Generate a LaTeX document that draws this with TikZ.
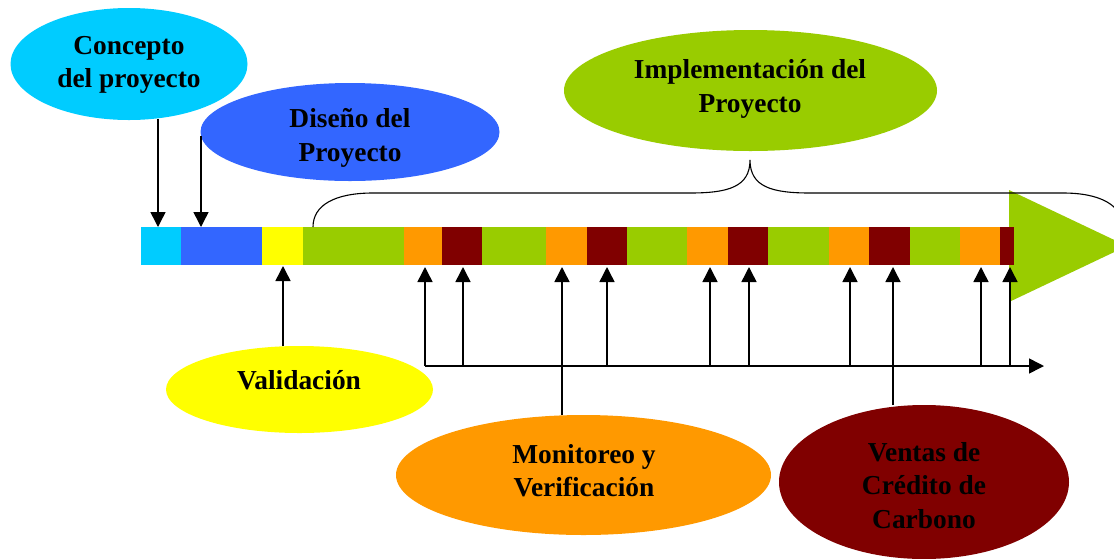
\documentclass[tikz,border=0pt]{standalone}
\usepackage{fontspec}
\setmainfont{Liberation Serif}
\usetikzlibrary{shapes.geometric,arrows.meta}
\definecolor{ccyan}{HTML}{00CCFF}
\definecolor{cblue}{HTML}{3366FF}
\definecolor{cyell}{HTML}{FFFF00}
\definecolor{cgreen}{HTML}{99CC00}
\definecolor{corange}{HTML}{FF9900}
\definecolor{cmaroon}{HTML}{800000}
\begin{document}
\begin{tikzpicture}[x=1pt,y=-1pt,
  ell/.style={ellipse,draw=none,inner sep=0pt,outer sep=0pt},
  lbl/.style={align=center,inner sep=0pt,font=\fontsize{27.4}{33.5}\selectfont\bfseries},
  seg/.style={rectangle,draw=none,inner sep=0pt,outer sep=0pt,minimum height=38pt,anchor=west},
  arr/.style={line width=1.5pt,-{Triangle[length=15pt,width=15pt]}},
  brace/.style={line width=1.1pt}]
\clip (0,0) rectangle (1114,558);
\fill[white] (0,0) rectangle (1114,558);

% ellipses
\node[ell,fill=ccyan,minimum width=237pt,minimum height=112pt] (concepto) at (129,64) {};
\node[lbl] (concepto-t) at (129,65) {Concepto\\del proyecto};
\node[ell,fill=cblue,minimum width=299pt,minimum height=98pt] (diseno) at (350,132) {};
\node[lbl] (diseno-t) at (350,138) {Diseño del\\Proyecto};
\node[ell,fill=cgreen,minimum width=373pt,minimum height=121pt] (impl) at (750.5,90.5) {};
\node[lbl] (impl-t) at (750,89) {Implementación del\\Proyecto};
\node[ell,fill=cyell,minimum width=267pt,minimum height=87pt] (valid) at (299.5,389.5) {};
\node[lbl] (valid-t) at (299,380) {Validación};
\node[ell,fill=corange,minimum width=375pt,minimum height=120pt] (monit) at (583.5,475) {};
\node[lbl] (monit-t) at (584,470.5) {Monitoreo y\\Verificación};
\node[ell,fill=cmaroon,minimum width=290pt,minimum height=154pt] (ventas) at (924,482) {};
\node[lbl] (ventas-t) at (924,485.5) {Ventas de\\Crédito de\\Carbono};

% big arrow head
\fill[cgreen] (1009,190) -- (1127,246) -- (1009,302) -- cycle;

% bar segments
\foreach \i/\a/\b/\c in {1/141/181/ccyan,2/181/262/cblue,3/262/303/cyell,4/303/404/cgreen,
  5/404/442/corange,6/442/482/cmaroon,7/482/546/cgreen,8/546/587/corange,9/587/627/cmaroon,
  10/627/687/cgreen,11/687/728/corange,12/728/768/cmaroon,13/768/829/cgreen,14/829/869/corange,
  15/869/910/cmaroon,16/910/960/cgreen,17/960/1000/corange,18/1000/1014/cmaroon}{
  \pgfmathsetmacro{\w}{\b-\a}
  \node[seg,fill=\c,minimum width=\w pt] (seg\i) at (\a,246) {};
}

% brace
\draw[brace] (seg4.north -| 313,0) .. controls (313,205) and (335,193) .. (373,193)
  -- (690,193) .. controls (728,193) and (750,187) .. (750,160)
  .. controls (750,187) and (772,193) .. (810,193)
  -- (1063,193) .. controls (1100,193) and (1123,205) .. (1123,228);

% arrows from top ellipses
\coordinate (c0) at (158,119);
\coordinate (d0) at (201,136);
\draw[arr] (c0) -- (c0 |- seg1.north);
\draw[arr] (d0) -- (d0 |- seg2.north);

% validation
\coordinate (v0) at (283,346);
\draw[arr] (v0) -- ([yshift=-1pt]v0 |- seg3.south);

% bottom timeline
\coordinate (hl) at (425,366);
\coordinate (hr) at (1044,366);
\draw[arr] (hl) -- (hr);
\foreach \x/\s in {425/5,463/6,607/9,710/11,749/12,850/14,981/17,1010/18}{
  \coordinate (b\x) at (\x,366);
  \draw[arr] (b\x) -- ([yshift=-2pt]b\x |- seg\s.south);
}
\coordinate (m0) at (562,415);
\draw[arr] (m0) -- ([yshift=-2pt]m0 |- seg8.south);
\coordinate (t0) at (893,405);
\draw[arr] (t0) -- ([yshift=-2pt]t0 |- seg15.south);
\end{tikzpicture}
\end{document}
